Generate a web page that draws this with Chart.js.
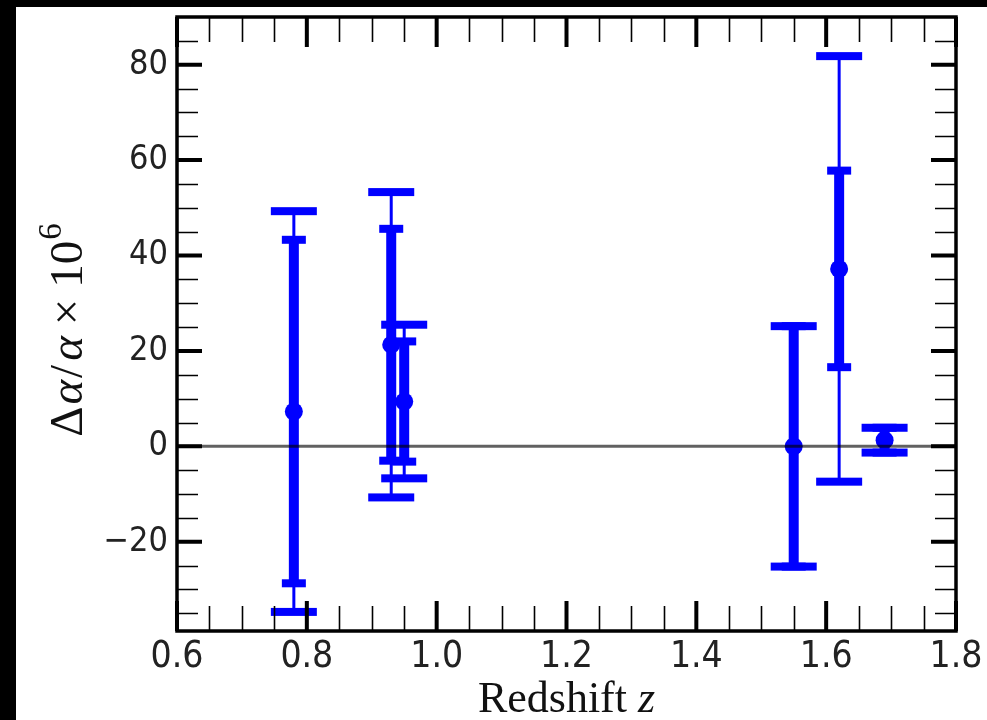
<!DOCTYPE html>
<html>
<head>
<meta charset="utf-8">
<script src="https://cdn.jsdelivr.net/npm/chart.js@4"></script>
<style>
  html, body { margin: 0; padding: 0; background: #000; }
  #wrap { position: absolute; left: 16px; top: 7px; width: 971px; height: 713px; background: #fff; }
</style>
</head>
<body>
<div id="wrap"><canvas id="chart"></canvas></div>
<script>
// redshift of each absorber
const zVals = [0.78, 0.93, 0.95, 1.55, 1.62, 1.69];
// delta alpha / alpha, units of 1e-6
const dAlpha = [7.3, 21.3, 9.4, 0.0, 37.2, 1.3];
// statistical (thick) and total (thin) errors
const statErr = [36.0, 24.3, 12.6, 25.2, 20.6, 2.6];
const totErr = [42.0, 32.0, 16.1, 25.2, 44.6, 2.6];

const xTicks = [0.6, 0.8, 1.0, 1.2, 1.4, 1.6, 1.8];
const xTickLabels = ['0.6', '0.8', '1.0', '1.2', '1.4', '1.6', '1.8'];
const yTicks = [-20, 0, 20, 40, 60, 80];
const yTickLabels = ['\u221220', '0', '20', '40', '60', '80'];

const BLUE = '#0000ff';
const TICK_FONT = '"DejaVu Sans Condensed", "DejaVu Sans", sans-serif';
const SERIF = '"Liberation Serif", "DejaVu Serif", serif';

// error bars under the points
const errorBars = {
    id: 'errorBars',
    beforeDatasetsDraw(chart) {
        const { ctx, scales: { x, y } } = chart;
        ctx.save();
        ctx.strokeStyle = BLUE;
        ctx.fillStyle = BLUE;
        zVals.forEach((z, i) => {
            const px = x.getPixelForValue(z);
            const bar = (err, lw, capW, capH) => {
                const top = y.getPixelForValue(dAlpha[i] + err);
                const bot = y.getPixelForValue(dAlpha[i] - err);
                ctx.lineWidth = lw;
                ctx.beginPath();
                ctx.moveTo(px, top);
                ctx.lineTo(px, bot);
                ctx.stroke();
                ctx.fillRect(px - capW / 2, top - capH / 2, capW, capH);
                ctx.fillRect(px - capW / 2, bot - capH / 2, capW, capH);
            };
            bar(totErr[i], 3, 46, 8);
            bar(statErr[i], 10, 24, 8);
        });
        ctx.restore();
    }
};

// zero line, frame, inward ticks, axis titles
const frame = {
    id: 'frame',
    afterDatasetsDraw(chart) {
        const { ctx, chartArea: a, scales: { y } } = chart;
        const y0 = y.getPixelForValue(0);
        ctx.save();
        ctx.strokeStyle = 'rgba(0,0,0,0.62)';
        ctx.lineWidth = 3;
        ctx.beginPath();
        ctx.moveTo(a.left, y0);
        ctx.lineTo(a.right, y0);
        ctx.stroke();
        ctx.restore();
    },
    afterDraw(chart) {
        const { ctx, chartArea: a, scales: { x, y } } = chart;
        ctx.save();
        ctx.strokeStyle = '#000';

        // minor ticks
        ctx.lineWidth = 1.6;
        ctx.beginPath();
        for (let v = 0.65; v < 1.8; v += 0.05) {
            if (xTicks.some(t => Math.abs(t - v) < 1e-6)) continue;
            const px = Math.round(x.getPixelForValue(v)) + 0.5;
            ctx.moveTo(px, a.top); ctx.lineTo(px, a.top + 25);
            ctx.moveTo(px, a.bottom); ctx.lineTo(px, a.bottom - 25);
        }
        for (let v = -35; v <= 85; v += 5) {
            if (yTicks.includes(v)) continue;
            const py = Math.round(y.getPixelForValue(v)) + 0.5;
            ctx.moveTo(a.left, py); ctx.lineTo(a.left + 21, py);
            ctx.moveTo(a.right, py); ctx.lineTo(a.right - 21, py);
        }
        ctx.stroke();

        // major ticks
        ctx.lineWidth = 4;
        ctx.beginPath();
        xTicks.forEach(v => {
            const px = x.getPixelForValue(v);
            ctx.moveTo(px, a.top); ctx.lineTo(px, a.top + 30);
            ctx.moveTo(px, a.bottom); ctx.lineTo(px, a.bottom - 30);
        });
        yTicks.forEach(v => {
            const py = y.getPixelForValue(v);
            ctx.moveTo(a.left, py); ctx.lineTo(a.left + 25, py);
            ctx.moveTo(a.right, py); ctx.lineTo(a.right - 25, py);
        });
        ctx.stroke();

        // frame
        ctx.lineWidth = 3.5;
        ctx.strokeRect(a.left, a.top, a.right - a.left, a.bottom - a.top);

        // x title: Redshift z
        ctx.fillStyle = '#111';
        ctx.textBaseline = 'alphabetic';
        const xt1 = 'Redshift ';
        ctx.font = 'italic 44px ' + SERIF;
        const wz = ctx.measureText('z').width;
        ctx.font = '44px ' + SERIF;
        const w1 = ctx.measureText(xt1).width;
        const sx = (a.left + a.right) / 2 - (w1 + wz) / 2;
        ctx.fillText(xt1, sx, 705);
        ctx.font = 'italic 44px ' + SERIF;
        ctx.fillText('z', sx + w1, 705);

        // y title: Δα/α × 10^6
        const parts = [
            { t: '\u0394', f: '47px ' + SERIF, dy: 0, gap: 0 },
            { t: '\u03b1', f: 'italic 47px ' + SERIF, dy: 0, gap: 2 },
            { t: '/', f: '47px ' + SERIF, dy: 0, gap: 2 },
            { t: '\u03b1', f: 'italic 47px ' + SERIF, dy: 0, gap: 4 },
            { t: '\u00d7', f: '47px ' + SERIF, dy: 0, gap: 11 },
            { t: '10', f: '47px ' + SERIF, dy: 0, gap: 11 },
            { t: '6', f: '33px ' + SERIF, dy: -21, gap: 1 }
        ];
        let total = 0;
        parts.forEach(p => { ctx.font = p.f; p.w = ctx.measureText(p.t).width; total += p.w + p.gap; });
        ctx.translate(66, 323);
        ctx.rotate(-Math.PI / 2);
        let cx = -total / 2;
        parts.forEach(p => {
            ctx.font = p.f;
            cx += p.gap;
            ctx.fillText(p.t, cx, p.dy);
            cx += p.w;
        });
        ctx.restore();
    }
};

new Chart(document.getElementById('chart'), {
    type: 'scatter',
    data: {
        datasets: [{
            data: zVals.map((z, i) => ({ x: z, y: dAlpha[i] })),
            backgroundColor: BLUE,
            borderWidth: 0,
            pointRadius: 9,
            pointHoverRadius: 9
        }]
    },
    options: {
        responsive: true,
        maintainAspectRatio: false,
        animation: false,
        events: [],
        layout: { padding: { left: 0, right: 31, top: 10, bottom: 0 } },
        plugins: {
            legend: { display: false },
            tooltip: { enabled: false }
        },
        scales: {
            x: {
                type: 'linear',
                min: 0.6,
                max: 1.8,
                grid: { display: false },
                border: { display: false },
                afterBuildTicks: s => { s.ticks = xTicks.map(v => ({ value: v })); },
                afterFit: s => { s.height = 89; s.paddingLeft = 0; s.paddingRight = 0; },
                ticks: {
                    callback: (v, i) => xTickLabels[i],
                    color: '#222',
                    padding: -4,
                    maxRotation: 0,
                    font: { family: TICK_FONT, size: 37 }
                }
            },
            y: {
                min: -38.7,
                max: 90,
                grid: { display: false },
                border: { display: false },
                afterBuildTicks: s => { s.ticks = yTicks.map(v => ({ value: v })); },
                afterFit: s => { s.width = 161; s.paddingTop = 0; s.paddingBottom = 0; },
                ticks: {
                    callback: (v, i) => yTickLabels[i],
                    color: '#222',
                    padding: 1,
                    font: { family: TICK_FONT, size: 34 }
                }
            }
        }
    },
    plugins: [errorBars, frame]
});
</script>
</body>
</html>
